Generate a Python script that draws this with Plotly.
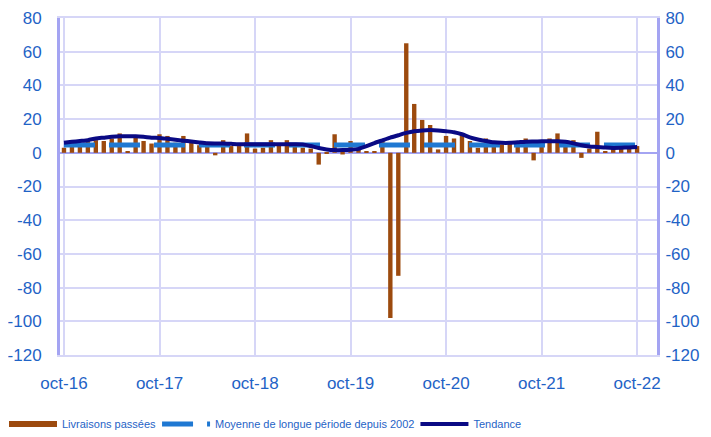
import plotly.graph_objects as go

# ---- data -------------------------------------------------------------
month_abbr = ["oct", "nov", "déc", "janv", "févr", "mars", "avr", "mai",
              "juin", "juil", "août", "sept"]
start_year = 16
n_months = 73
months = []
for k in range(n_months):
    m = k % 12
    yr = start_year + (k + 9) // 12
    months.append(f"{month_abbr[m]}-{yr:02d}")

tick_labels = ["oct-16", "oct-17", "oct-18", "oct-19", "oct-20", "oct-21", "oct-22"]
y_ticks = [-120, -100, -80, -60, -40, -20, 0, 20, 40, 60, 80]
y_tick_text = ["-120", "-100", "-80", "-60", "-40", "-20", "0", "20", "40", "60", "80"]

livraisons = [3, 5, 5, 7, 7.5, 7, 8.5, 11.5, 1, 9.5, 7, 5.5,
              11, 10, 6, 10, 6, 4.5, 4, -1.5, 7.5, 4, 4, 11.5,
              2.5, 3, 7.5, 4.5, 7.5, 4, 3, 2.5, -7, -0.5, 11, -1,
              7, 2, 0.5, 1, 7.5, -98, -73, 65, 29, 19.5, 16.5, 2,
              10, 8.5, 11.5, 7, 3, 8.5, 5, 5, 5.5, 4, 8.5, -4.5,
              4.5, 8.5, 11.5, 5, 7.5, -3, 2.5, 12.5, 0.6, 2.5, 2.5, 2.5,
              4]

tendance = [6, 6.5, 7, 7.5, 8.5, 9, 9.5, 9.8, 9.8, 9.8, 9.5, 9,
            8.8, 8.3, 7.8, 7.2, 6.7, 6.1, 5.6, 5.5, 5.5, 5.3, 5.1, 5.1,
            5.1, 5.1, 5.1, 5.1, 5.1, 5.1, 5, 4, 2.8, 2, 1.6, 1.6,
            1.8, 2.3, 3.9, 5.8, 7.4, 9, 10.4, 11.8, 12.8, 13.3, 13.5, 13.3,
            12.8, 12.2, 11, 9.2, 7.9, 7, 6.2, 5.9, 5.9, 6.2, 6.6, 6.7,
            6.8, 6.9, 6.9, 6.5, 5.6, 4.5, 3.8, 3.5, 3.1, 2.9, 3, 3.2,
            3.4]

moyenne_lp = 4.7
moyenne = [moyenne_lp] * len(months)

# ---- style ------------------------------------------------------------
TXT = "#1f63c6"
BROWN = "#9c4a0e"
AVG = "#1f78d2"
NAVY = "#0a0a84"
AXIS = "#a4a4f2"
GRID = "#d6d6f7"
FONT = "Liberation Sans, Arial, sans-serif"

fig = go.Figure()
fig.add_trace(go.Bar(x=months, y=livraisons, name="Livraisons passées",
                     marker=dict(color=BROWN, line=dict(width=0)),
                     showlegend=False, yaxis="y"))
# legend swatch for the bars (wide rectangle as in the original)
fig.add_trace(go.Scatter(x=[None], y=[None], mode="lines", name="Livraisons passées",
                         line=dict(color=BROWN, width=6), yaxis="y2"))
fig.add_trace(go.Scatter(x=months, y=moyenne, mode="lines",
                         name="Moyenne de longue période depuis 2002",
                         line=dict(color=AVG, width=5, dash="31px,14px"), yaxis="y2"))
fig.add_trace(go.Scatter(x=months, y=tendance, mode="lines", name="Tendance",
                         line=dict(color=NAVY, width=4, shape="spline", smoothing=0.6),
                         yaxis="y2"))

yax = dict(range=[-120, 80], tickmode="array", tickvals=y_ticks, ticktext=y_tick_text,
           showgrid=True, gridcolor=GRID,
           gridwidth=1.5, showline=True, linecolor=AXIS, linewidth=3,
           zeroline=True, zerolinecolor=AXIS, zerolinewidth=2,
           tickfont=dict(family=FONT, size=17, color=TXT), ticks="",
           ticklabeloverflow="allow", automargin=False, fixedrange=True)

# the page body adds an 8px offset: figure is sized so that it fills the window
fig.update_layout(
    width=703, height=429,
    margin=dict(l=52, r=54, t=10, b=82, autoexpand=False),
    paper_bgcolor="white", plot_bgcolor="white",
    bargap=0.45,
    font=dict(family=FONT, color=TXT),
    xaxis=dict(type="category", categoryorder="array", categoryarray=months,
               range=[-0.5, 74.5], tickmode="array", tickvals=tick_labels,
               ticktext=tick_labels, showgrid=True, gridcolor=GRID, gridwidth=1.5,
               showline=True, linecolor=GRID, linewidth=1.5, mirror=True,
               ticks="", ticklabelstandoff=12, automargin=False,
               tickfont=dict(family=FONT, size=17, color=TXT)),
    yaxis=dict(**yax, side="left", ticklabelstandoff=12),
    yaxis2=dict(**yax, side="right", overlaying="y", ticklabelstandoff=2),
    legend=dict(orientation="h", xref="container", x=0.0, xanchor="left",
                yref="container", y=1 - 416 / 429, yanchor="middle",
                indentation=-4,
                font=dict(family=FONT, size=11, color=TXT), itemwidth=48,
                traceorder="normal"),
)
fig.update_yaxes(showgrid=False, selector=dict(overlaying="y"))

fig.write_html("out.html")
